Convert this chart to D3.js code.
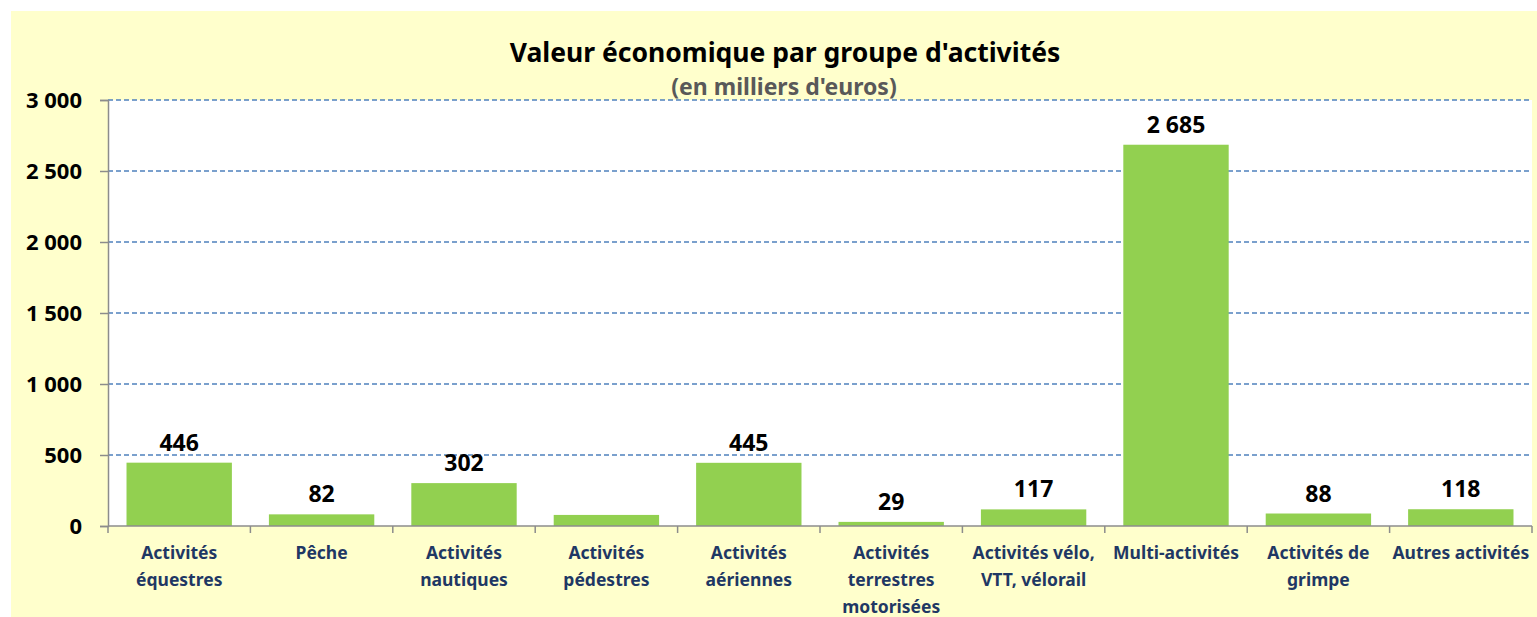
<!DOCTYPE html>
<html>
<head>
<meta charset="utf-8">
<script src="https://cdn.jsdelivr.net/npm/d3@7"></script>
<style>
  body { margin: 0; background: #ffffff; }
  svg { display: block; }
  text { font-family: "Noto Sans", "Open Sans", sans-serif; font-weight: bold; }
</style>
</head>
<body>
<div id="chart"></div>
<script>
// categories (line breaks as in the picture)
const categories = [
  "Activités\néquestres", "Pêche", "Activités\nnautiques", "Activités\npédestres",
  "Activités\naériennes", "Activités\nterrestres\nmotorisées", "Activités vélo,\nVTT, vélorail",
  "Multi-activités", "Activités de\ngrimpe", "Autres activités"
];
// values in thousands of euros
const values = [446, 82, 302, 78, 445, 29, 117, 2685, 88, 118];
// which bars carry a data label (pédestres has none in the source)
const showLabel = [true, true, true, false, true, true, true, true, true, true];
const yTicks = [0, 500, 1000, 1500, 2000, 2500, 3000];
const title = "Valeur économique par groupe d'activités";
const subtitle = "(en milliers d'euros)";

const W = 1537, H = 617;
const margin = {top: 100, right: 5, bottom: 91, left: 108};
const width = W - margin.left - margin.right;
const height = H - margin.top - margin.bottom;

const fr = d3.formatLocale({decimal: ",", thousands: "\u00a0", grouping: [3], currency: ["", " €"]});
const fmt = fr.format(",d");

const svg = d3.select("#chart").append("svg")
  .attr("width", W)
  .attr("height", H);

// chart area background
svg.append("rect")
  .attr("x", 11).attr("y", 11)
  .attr("width", W - 11).attr("height", H - 11)
  .attr("fill", "#ffffcc");

const g = svg.append("g")
  .attr("transform", `translate(${margin.left}, ${margin.top})`);

// plot area
g.append("rect")
  .attr("width", width).attr("height", height)
  .attr("fill", "#ffffff");

const x = d3.scaleBand()
  .domain(categories)
  .range([0, width])
  .paddingInner(0.26)
  .paddingOuter(0.13);

const y = d3.scaleLinear()
  .domain([0, 3000])
  .range([height, 0]);

// gridlines
g.append("g")
  .selectAll("line")
  .data(yTicks.filter(d => d > 0))
  .join("line")
  .attr("x1", 0).attr("x2", width)
  .attr("y1", d => y(d)).attr("y2", d => y(d))
  .attr("stroke", "#4f81bd")
  .attr("stroke-width", 1.5)
  .attr("stroke-dasharray", "5,3");

// bars
g.append("g")
  .selectAll("rect")
  .data(values)
  .join("rect")
  .attr("x", (d, i) => x(categories[i]))
  .attr("y", d => y(d))
  .attr("width", x.bandwidth())
  .attr("height", d => y(0) - y(d))
  .attr("fill", "#92d050");

// value labels
g.append("g")
  .selectAll("text")
  .data(values.map((v, i) => ({v, i})).filter(d => showLabel[d.i]))
  .join("text")
  .attr("x", d => x(categories[d.i]) + x.bandwidth() / 2)
  .attr("y", d => y(d.v) - 12)
  .attr("text-anchor", "middle")
  .attr("font-size", 23)
  .attr("fill", "#000000")
  .text(d => fmt(d.v));

// y axis
const yAxis = g.append("g")
  .call(d3.axisLeft(y).tickValues(yTicks).tickSize(8).tickPadding(18).tickFormat(fmt));
yAxis.select(".domain").attr("stroke", "#8c8c8c").attr("stroke-width", 1.5);
yAxis.selectAll(".tick line").attr("stroke", "#8c8c8c").attr("stroke-width", 1.5);
yAxis.selectAll(".tick text")
  .attr("font-size", 22)
  .attr("fill", "#000000")
  .attr("font-family", "'Noto Sans', sans-serif")
  .attr("font-weight", "bold");

// x axis
const xAxis = g.append("g")
  .attr("transform", `translate(0, ${height})`);
xAxis.append("line")
  .attr("x1", 0).attr("x2", width)
  .attr("stroke", "#8c8c8c").attr("stroke-width", 1.5);
const step = x.step();
const bounds = d3.range(categories.length + 1);
xAxis.selectAll(".xtick")
  .data(bounds)
  .join("line")
  .attr("class", "xtick")
  .attr("x1", i => i < categories.length ? x(categories[i]) - step * x.paddingInner() / 2 : width)
  .attr("x2", i => i < categories.length ? x(categories[i]) - step * x.paddingInner() / 2 : width)
  .attr("y1", 0).attr("y2", 7)
  .attr("stroke", "#8c8c8c").attr("stroke-width", 1.5);

const xl = xAxis.selectAll(".xlabel")
  .data(categories)
  .join("text")
  .attr("class", "xlabel")
  .attr("text-anchor", "middle")
  .attr("font-size", 17.5)
  .attr("fill", "#1f3864")
  .attr("transform", d => `translate(${x(d) + x.bandwidth() / 2}, 33)`);
xl.selectAll("tspan")
  .data(d => d.split("\n"))
  .join("tspan")
  .attr("x", 0)
  .attr("y", (d, i) => i * 27)
  .text(d => d);

// titles
svg.append("text")
  .attr("x", 785).attr("y", 62)
  .attr("text-anchor", "middle")
  .attr("font-size", 26.5)
  .attr("fill", "#000000")
  .text(title);
svg.append("text")
  .attr("x", 784).attr("y", 95)
  .attr("text-anchor", "middle")
  .attr("font-size", 23)
  .attr("fill", "#595959")
  .text(subtitle);
</script>
</body>
</html>
